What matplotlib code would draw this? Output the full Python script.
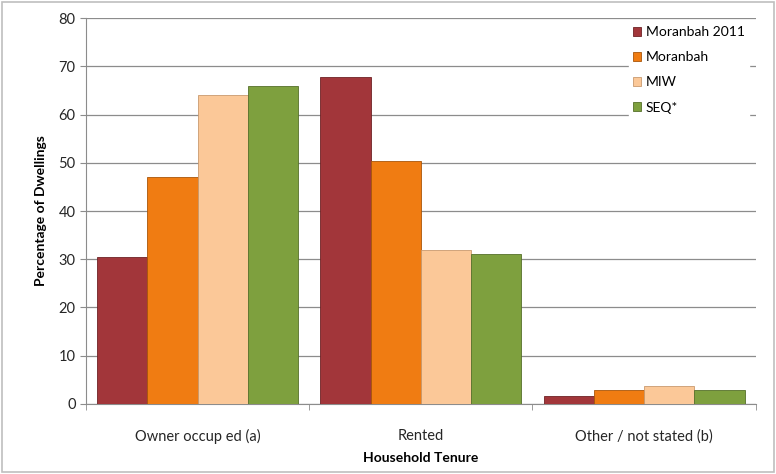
import numpy as np
import matplotlib.pyplot as plt
from matplotlib.patches import Rectangle

plt.rcParams['font.family'] = ['Lato', 'DejaVu Sans']

categories = ['Owner occup ed (a)', 'Rented', 'Other / not stated (b)']
series = ['Moranbah 2011', 'Moranbah', 'MIW', 'SEQ*']
moranbah_2011 = [30.5, 67.8, 1.7]
moranbah = [47.0, 50.3, 2.8]
miw = [64.0, 32.0, 3.8]
seq = [66.0, 31.0, 2.8]
yticks = [0, 10, 20, 30, 40, 50, 60, 70, 80]

colors = ['#A2363A', '#F07C12', '#FBC898', '#7EA03E']
edges = ['#6E2225', '#A9560A', '#C99A6E', '#55702A']

fig = plt.figure(figsize=(7.76, 4.74), dpi=100)
fig.patches.append(Rectangle((0.003, 0.004), 0.994, 0.992, transform=fig.transFigure,
                             fill=False, edgecolor='#BFBFBF', linewidth=1.2))
ax = fig.add_axes([0.1108, 0.1477, 0.863, 0.8143])

x = np.arange(len(categories))
w = 0.225
for i, vals in enumerate([moranbah_2011, moranbah, miw, seq]):
    ax.bar(x + (i - 1.5) * w, vals, width=w, color=colors[i], edgecolor=edges[i],
           linewidth=0.6, label=series[i], zorder=3)

ax.set_xlim(-0.5, 2.5)
ax.set_ylim(0, 80)
ax.set_yticks(yticks)
ax.yaxis.grid(True, color='#8C8C8C', linewidth=0.9, zorder=0)
ax.set_axisbelow(True)

ax.set_xticks(x)
ax.set_xticklabels(categories, fontsize=10.5, color='#262626')
ax.set_xticks([-0.5, 0.5, 1.5, 2.5], minor=True)
ax.tick_params(axis='x', which='major', length=0, pad=18)
ax.tick_params(axis='x', which='minor', length=4, color='#8C8C8C')
ax.tick_params(axis='y', length=4, color='#8C8C8C', labelsize=10.5, labelcolor='#262626')

for s in ['top', 'right']:
    ax.spines[s].set_visible(False)
for s in ['left', 'bottom']:
    ax.spines[s].set_color('#8C8C8C')

ax.set_xlabel('Household Tenure', fontsize=10, fontweight='bold', labelpad=6)
ax.set_ylabel('Percentage of Dwellings', fontsize=10, fontweight='bold', labelpad=8)

leg = ax.legend(loc='upper right', bbox_to_anchor=(1.0, 1.008), frameon=True, fontsize=10,
                handlelength=0.6, handleheight=0.6, handletextpad=0.3, labelspacing=0.95,
                borderpad=0.3, fancybox=False)
leg.get_frame().set_edgecolor('white')
leg.get_frame().set_facecolor('white')
leg.get_frame().set_alpha(1)

fig.savefig('out.png', dpi=100)
